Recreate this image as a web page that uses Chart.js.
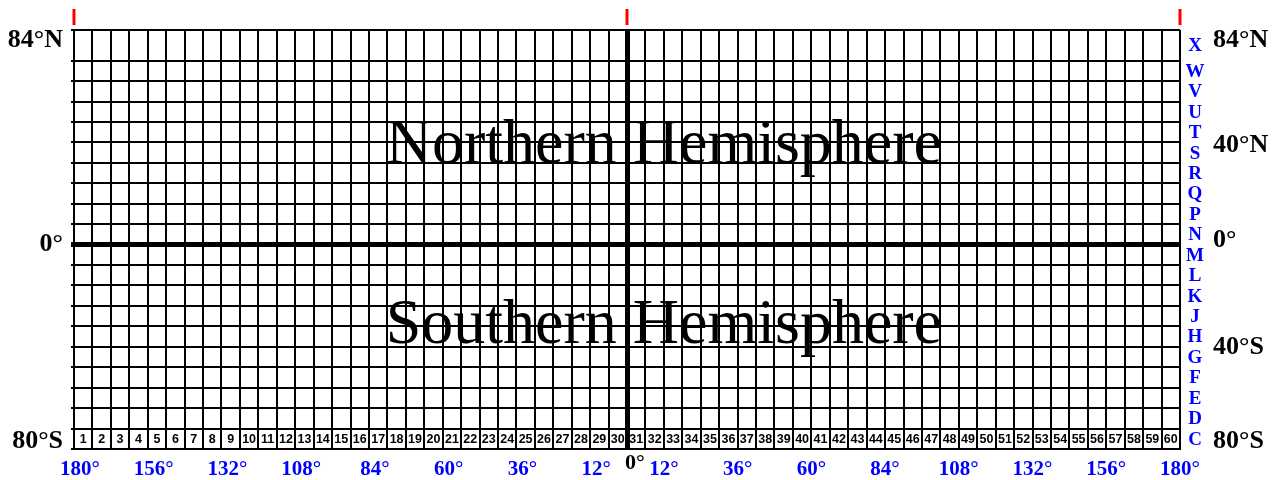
<!DOCTYPE html>
<html>
<head>
<meta charset="utf-8">
<script src="https://cdn.jsdelivr.net/npm/chart.js@4.4.0/dist/chart.umd.min.js"></script>
<style>
  body { margin: 0; background: #fff; }
  #wrap { width: 1274px; height: 480px; position: relative; }
</style>
</head>
<body>
<div id="wrap"><canvas id="utm"></canvas></div>
<script>
// latitude bands, south to north, and their edges (degrees)
var bandLetters = ["C","D","E","F","G","H","J","K","L","M","N","P","Q","R","S","T","U","V","W","X"];
var bandEdges = [-80,-72,-64,-56,-48,-40,-32,-24,-16,-8,0,8,16,24,32,40,48,56,64,72,84];

// UTM zone numbers, west to east
var zoneNumbers = [1,2,3,4,5,6,7,8,9,10,11,12,13,14,15,16,17,18,19,20,
                   21,22,23,24,25,26,27,28,29,30,31,32,33,34,35,36,37,38,39,40,
                   41,42,43,44,45,46,47,48,49,50,51,52,53,54,55,56,57,58,59,60];
var zoneWidth = 6;

// longitude labels under the grid
var lonTicks  = [-180,-156,-132,-108,-84,-60,-36,-12,0,12,36,60,84,108,132,156,180];
var lonLabels = ["180°","156°","132°","108°","84°","60°","36°","12°","0°","12°","36°","60°","84°","108°","132°","156°","180°"];

// latitude labels
var leftLat      = [84, 0, -80];
var leftLatText  = ["84°N", "0°", "80°S"];
var rightLat     = [84, 40, 0, -40, -80];
var rightLatText = ["84°N", "40°N", "0°", "40°S", "80°S"];

// red marks above the grid
var markLon = [-180, 0, 180];

var titles = ["Northern Hemisphere", "Southern Hemisphere"];
var titleLat = [32, -38.5];
var titleLon = 12;

var serif = "'Liberation Serif', 'Times New Roman', serif";
var sans = "'Liberation Sans', Arial, sans-serif";

var labelsPlugin = {
    id: "utmLabels",
    afterDraw: function (chart) {
        var c = chart.ctx;
        var x = chart.scales.x, y = chart.scales.y;
        var area = chart.chartArea;
        c.save();

        // hemisphere captions
        c.fillStyle = "#000";
        c.font = "64px " + serif;
        c.textAlign = "center";
        c.textBaseline = "alphabetic";
        titles.forEach(function (t, i) {
            c.fillText(t, x.getPixelForValue(titleLon), y.getPixelForValue(titleLat[i]));
        });

        // zone numbers in the bottom band
        c.font = "bold 12.5px " + sans;
        c.textBaseline = "middle";
        var rowY = (y.getPixelForValue(bandEdges[0]) + y.getPixelForValue(bandEdges[1])) / 2 + 1;
        zoneNumbers.forEach(function (n, i) {
            var lon = -180 + zoneWidth * i + zoneWidth / 2;
            c.fillText(String(n), x.getPixelForValue(lon), rowY);
        });

        // band letters on the right
        c.fillStyle = "#0000ff";
        c.font = "bold 19px " + serif;
        bandLetters.forEach(function (l, i) {
            var mid = (bandEdges[i] + bandEdges[i + 1]) / 2;
            c.fillText(l, area.right + 15, y.getPixelForValue(mid) + 1);
        });

        // longitude labels
        lonTicks.forEach(function (v, i) {
            var px = x.getPixelForValue(v);
            if (v < 0) px += 6;
            if (v === 0) {
                c.fillStyle = "#000";
                c.font = "bold 22px " + serif;
                c.fillText(lonLabels[i], px + 8, area.bottom + 14);
            } else {
                c.fillStyle = "#0000ff";
                c.font = "bold 21px " + serif;
                c.fillText(lonLabels[i], px, area.bottom + 21);
            }
        });

        // latitude labels
        c.fillStyle = "#000";
        c.font = "bold 26px " + serif;
        function nudge(v) { return v === 84 ? 10 : (v === -80 ? -8 : 0); }
        c.textAlign = "right";
        leftLat.forEach(function (v, i) {
            c.fillText(leftLatText[i], area.left - 11, y.getPixelForValue(v) + nudge(v));
        });
        c.textAlign = "left";
        rightLat.forEach(function (v, i) {
            c.fillText(rightLatText[i], area.right + 33, y.getPixelForValue(v) + nudge(v) - (v === 0 ? 4 : 0) + (v === 40 ? 3 : 0));
        });

        // red marks
        c.strokeStyle = "#ff0000";
        c.lineWidth = 3;
        markLon.forEach(function (v) {
            var px = x.getPixelForValue(v);
            c.beginPath();
            c.moveTo(px, area.top - 21);
            c.lineTo(px, area.top - 5);
            c.stroke();
        });

        c.restore();
    }
};

new Chart(document.getElementById("utm"), {
    type: "scatter",
    data: { datasets: [{ data: [], showLine: false }] },
    options: {
        responsive: true,
        maintainAspectRatio: false,
        animation: false,
        layout: { padding: { left: 71, right: 94, top: 30, bottom: 31 } },
        plugins: { legend: { display: false }, tooltip: { enabled: false } },
        scales: {
            x: {
                type: "linear",
                min: -180,
                max: 180,
                ticks: { stepSize: zoneWidth, display: false },
                grid: {
                    color: "#000",
                    lineWidth: function (ctx) { return ctx.tick && ctx.tick.value === 0 ? 5 : 2; },
                    drawTicks: false
                },
                border: { display: true, color: "#000", width: 2 }
            },
            y: {
                type: "linear",
                min: -80,
                max: 84,
                afterBuildTicks: function (scale) {
                    scale.ticks = bandEdges.map(function (v) { return { value: v }; });
                },
                ticks: { display: false },
                grid: {
                    color: "#000",
                    lineWidth: function (ctx) { return ctx.tick && ctx.tick.value === 0 ? 5 : 2; },
                    drawTicks: true,
                    tickLength: 3
                },
                border: { display: true, color: "#000", width: 2 }
            }
        }
    },
    plugins: [labelsPlugin]
});
</script>
</body>
</html>
